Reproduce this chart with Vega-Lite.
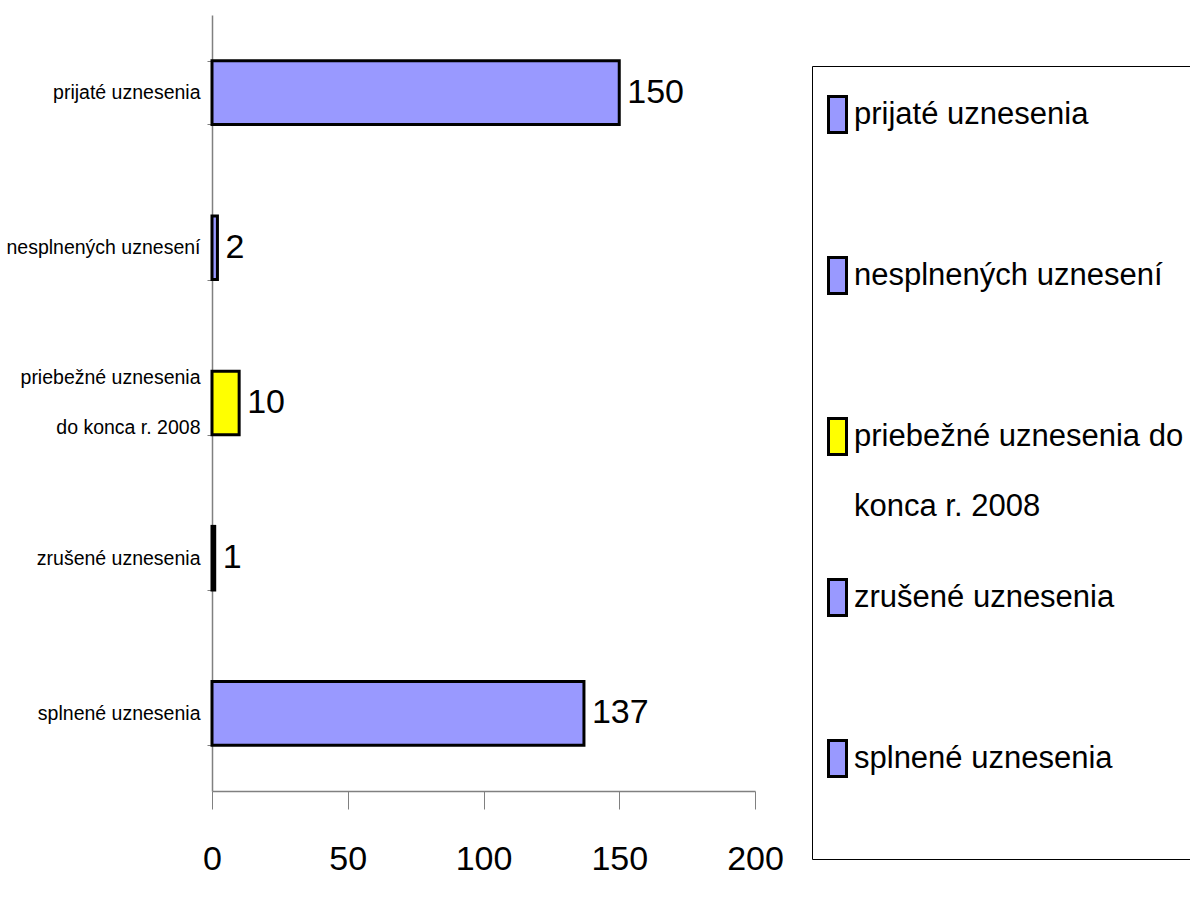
{
  "$schema": "https://vega.github.io/schema/vega-lite/v6.json",
  "width": 543,
  "height": 776,
  "autosize": {"type": "none"},
  "padding": {"left": 212, "top": 15, "right": 435, "bottom": 106},
  "background": "white",
  "config": {
    "font": "Liberation Sans, Arial, sans-serif",
    "view": {"stroke": null},
    "style": {"guide-label": {"lineHeight": 70}}
  },
  "data": {
    "values": [
      {"kategoria": "prijaté uznesenia", "pocet": 150},
      {"kategoria": "nesplnených uznesení", "pocet": 2},
      {"kategoria": "priebežné uznesenia do konca r. 2008", "pocet": 10},
      {"kategoria": "zrušené uznesenia", "pocet": 1},
      {"kategoria": "splnené uznesenia", "pocet": 137}
    ]
  },
  "encoding": {
    "y": {
      "field": "kategoria",
      "type": "nominal",
      "sort": null,
      "title": null,
      "scale": {"paddingInner": 0.59, "paddingOuter": 0.295},
      "axis": {
        "tickBand": "extent",
        "tickSize": 5,
        "labelFontSize": 19.5,
        "labelPadding": 7,
        "labelLimit": 300,
        "labelColor": "black",
        "labelLineHeight": 50,
        "labelOffset": {
          "condition": {"test": "datum.value == 'priebežné uznesenia do konca r. 2008'", "value": -26},
          "value": 0
        },
        "labelExpr": "datum.label == 'priebežné uznesenia do konca r. 2008' ? ['priebežné uznesenia', 'do konca r. 2008'] : datum.label",
        "domainColor": "#808080",
        "tickColor": "#808080",
        "domainWidth": 1.5
      }
    },
    "x": {
      "field": "pocet",
      "type": "quantitative",
      "title": null,
      "scale": {"domain": [0, 200]},
      "axis": {
        "values": [0, 50, 100, 150, 200],
        "tickSize": 18,
        "labelFontSize": 34,
        "labelPadding": 33,
        "labelFlush": false,
        "labelColor": "black",
        "grid": false,
        "domainColor": "#808080",
        "tickColor": "#808080",
        "domainWidth": 1.5
      }
    }
  },
  "layer": [
    {
      "mark": {"type": "bar", "stroke": "black", "strokeWidth": 3},
      "encoding": {
        "color": {
          "field": "kategoria",
          "type": "nominal",
          "sort": null,
          "scale": {
            "domain": [
              "prijaté uznesenia",
              "nesplnených uznesení",
              "priebežné uznesenia do konca r. 2008",
              "zrušené uznesenia",
              "splnené uznesenia"
            ],
            "range": ["#9999FF", "#9999FF", "#FFFF00", "#9999FF", "#9999FF"]
          },
          "legend": {
            "orient": "none",
            "legendX": 600,
            "legendY": 51,
            "title": " ",
            "titleFontSize": 8,
            "titlePadding": 6,
            "strokeColor": "black",
            "padding": 15,
            "gridAlign": "all",
            "symbolType": "M-1,-1H0V1H-1Z",
            "symbolSize": 1296,
            "symbolStrokeColor": "black",
            "symbolStrokeWidth": 3,
            "symbolOpacity": 1,
            "labelFontSize": 31,
            "labelColor": "black",
            "labelOffset": -12,
            "labelLimit": 400,
            "rowPadding": 51,
            "labelExpr": "datum.label == 'priebežné uznesenia do konca r. 2008' ? ['priebežné uznesenia do', 'konca r. 2008'] : datum.label == 'splnené uznesenia' ? ['splnené uznesenia', ''] : datum.label"
          }
        }
      }
    },
    {
      "mark": {"type": "text", "align": "left", "baseline": "middle", "dx": 8, "fontSize": 34, "color": "black"},
      "encoding": {"text": {"field": "pocet", "type": "quantitative"}}
    }
  ]
}
